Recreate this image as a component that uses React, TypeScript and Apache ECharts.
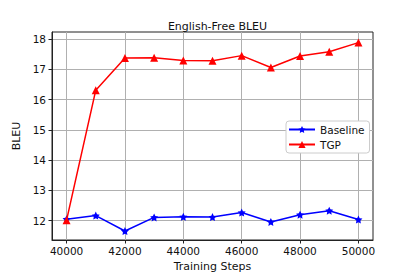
import React, { useEffect, useRef } from "react";
import * as echarts from "echarts";

const steps = [40000, 41000, 42000, 43000, 44000, 45000, 46000, 47000, 48000, 49000, 50000];
const baseline = [12.05, 12.17, 11.66, 12.11, 12.13, 12.12, 12.27, 11.96, 12.2, 12.33, 12.04];
const tgp = [12.02, 16.31, 17.37, 17.38, 17.29, 17.28, 17.45, 17.06, 17.44, 17.58, 17.88];
const xTicks = [40000, 42000, 44000, 46000, 48000, 50000];
const yTicks = [12, 13, 14, 15, 16, 17, 18];

const STAR =
  "path://M0,-10L2.94,-4.05L9.51,-3.09L4.76,1.55L5.88,8.09L0,5L-5.88,8.09L-4.76,1.55L-9.51,-3.09L-2.94,-4.05Z";
const FONT = "DejaVu Sans";

export default function App() {
  const ref = useRef<HTMLDivElement>(null);
  useEffect(() => {
    if (!ref.current) return;
    const chart = echarts.init(ref.current, undefined, { renderer: "svg" });
    const axisCommon = {
      axisLine: { show: true, onZero: false, lineStyle: { color: "#222", width: 1 } },
      axisTick: { show: true, length: 3.5, lineStyle: { color: "#222", width: 1 } },
      splitLine: { show: true, lineStyle: { color: "#b0b0b0", width: 1 } },
    };
    chart.setOption({
      animation: false,
      backgroundColor: "#fff",
      textStyle: { fontFamily: FONT },
      title: {
        text: "English-Free BLEU",
        left: 212.5,
        textAlign: "center",
        top: 16,
        textStyle: { fontFamily: FONT, fontSize: 11, fontWeight: "normal", color: "#111" },
      },
      grid: {
        left: 52,
        right: 42,
        top: 32,
        bottom: 35,
        show: true,
        borderColor: "#222",
        borderWidth: 1,
        backgroundColor: "#fff",
      },
      legend: {
        orient: "vertical",
        left: 286,
        top: 121,
        padding: [3, 5, 3, 2],
        itemGap: 4,
        itemWidth: 26,
        itemHeight: 9,
        backgroundColor: "#fff",
        borderColor: "#cccccc",
        borderWidth: 1,
        borderRadius: 3,
        textStyle: { fontFamily: FONT, fontSize: 10.5, color: "#111" },
        data: ["Baseline", "TGP"],
      },
      xAxis: {
        type: "value",
        min: 39500,
        max: 50500,
        name: "Training Steps",
        nameLocation: "middle",
        nameGap: 21,
        nameTextStyle: { fontFamily: FONT, fontSize: 11, color: "#111" },
        ...axisCommon,
        axisTick: { ...axisCommon.axisTick, customValues: xTicks },
        axisLabel: {
          customValues: xTicks,
          formatter: (v: number) => String(v),
          fontFamily: FONT,
          fontSize: 10.5,
          color: "#111",
          margin: 5,
        },
      },
      yAxis: {
        type: "value",
        min: 11.364,
        max: 18.23,
        name: "BLEU",
        nameLocation: "middle",
        nameGap: 25,
        nameTextStyle: { fontFamily: FONT, fontSize: 11, color: "#111" },
        ...axisCommon,
        axisTick: { ...axisCommon.axisTick, customValues: yTicks },
        axisLabel: {
          customValues: yTicks,
          formatter: (v: number) => String(v),
          fontFamily: FONT,
          fontSize: 10.5,
          color: "#111",
          margin: 6,
        },
      },
      series: [
        {
          name: "Baseline",
          type: "line",
          data: steps.map((s, i) => [s, baseline[i]]),
          symbol: STAR,
          symbolSize: 8,
          showAllSymbol: true,
          lineStyle: { color: "#0000ff", width: 1.5 },
          itemStyle: { color: "#0000ff" },
          z: 2,
        },
        {
          name: "TGP",
          type: "line",
          data: steps.map((s, i) => [s, tgp[i]]),
          symbol: "triangle",
          symbolSize: 8,
          showAllSymbol: true,
          lineStyle: { color: "#ff0000", width: 1.5 },
          itemStyle: { color: "#ff0000" },
          z: 3,
        },
      ],
    });
    return () => chart.dispose();
  }, []);
  return (
    <div
      ref={ref}
      style={{ position: "fixed", left: 0, top: 0, width: 415, height: 277 }}
    />
  );
}
